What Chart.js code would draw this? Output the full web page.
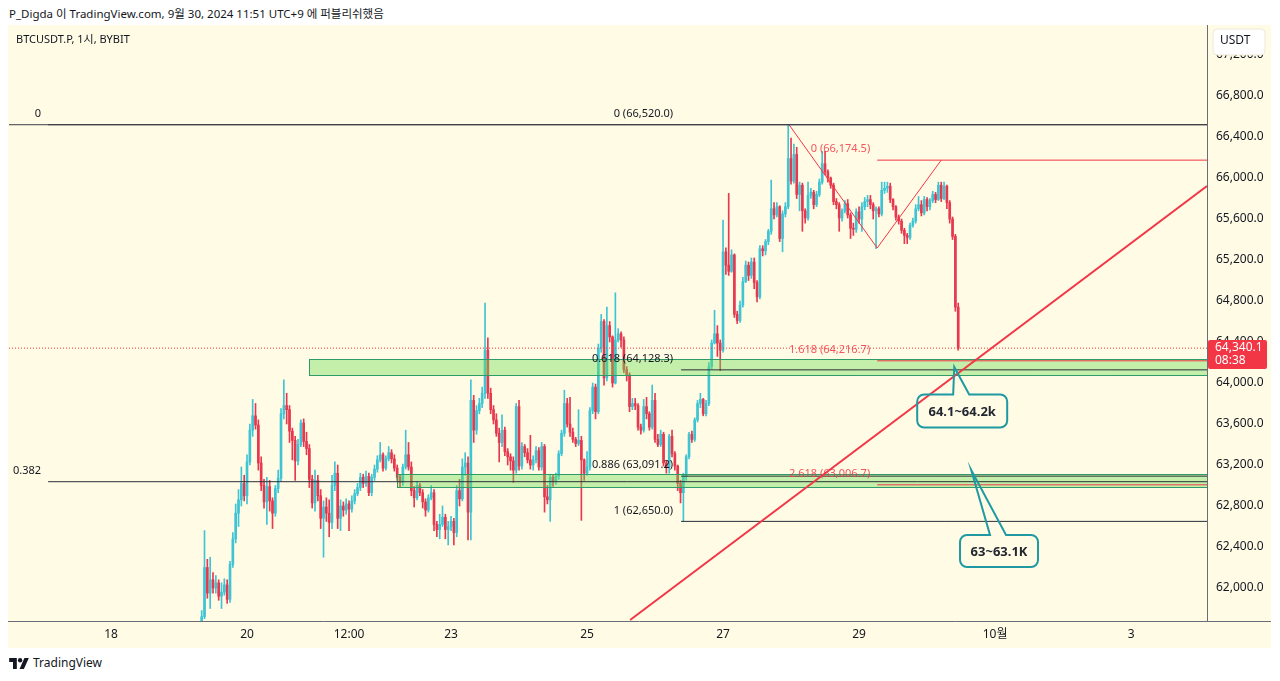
<!DOCTYPE html>
<html>
<head>
<meta charset="utf-8">
<script src="https://cdn.jsdelivr.net/npm/chart.js@4.4.1/dist/chart.umd.min.js"></script>
<style>
  html, body { margin: 0; padding: 0; background: #ffffff; }
  body {
    width: 1280px; height: 681px; position: relative; overflow: hidden;
    font-family: "Noto Sans", "Noto Sans CJK KR", sans-serif; color: #131722;
  }
  #header { position: absolute; left: 9px; top: 5px; font-size: 11.5px; line-height: 18px; }
  #wrap { position: absolute; left: 8px; top: 25px; width: 1263px; height: 623px; background: #fffbe5; }
  #footer { position: absolute; left: 9px; top: 655px; font-size: 12px; line-height: 16px; display: flex; align-items: center; gap: 4px; }
</style>
</head>
<body>
<div id="header">P_Digda 이 TradingView.com, 9월 30, 2024 11:51 UTC+9 에 퍼블리쉬했음</div>
<div id="wrap"><canvas id="chart" width="1263" height="623"></canvas></div>
<div id="footer">
  <svg width="20" height="12" viewBox="0 0 36 22"><path d="M14 22H7V9H0V2h14z" fill="#131722"/><circle cx="20" cy="6" r="4" fill="#131722"/><path d="M28 2h8l-9 20h-8z" fill="#131722"/></svg>
  <span>TradingView</span>
</div>
<script>
// hours counted from Sep 20 00:00; first candle is Sep 19 08:00
const firstHour = -16;

const opens = [
  61600, 61720, 62200, 61950, 62080, 62000, 62050, 61920, 61960, 62030,
  61890, 62230, 62480, 62730, 62860, 63020, 62900, 63230, 63540, 63680,
  63590, 63220, 63000, 62840, 62990, 62850, 62730, 62970, 63070, 63700,
  63780, 63740, 63530, 63440, 63240, 63400, 63610, 63430, 63360, 63060,
  62830, 63050, 62900, 62680, 62790, 62730, 62640, 63000, 63120, 62680,
  62800, 62760, 62820, 62770, 62850, 62920, 62980, 63080, 63020, 63090,
  62930, 63080, 63160, 63250, 63300, 63170, 63260, 63320, 63260, 63170,
  63080, 63030, 63180, 63300, 63180, 62950, 62880, 63000, 62930, 62840,
  62760, 62880, 62930, 62620, 62570, 62620, 62690, 62570, 62600, 62650,
  62540, 62950, 62870, 63180, 63220, 62740, 63830, 63540, 63730, 63800,
  63900, 64320, 63900, 63740, 63640, 63510, 63420, 63540, 63330, 63280,
  63240, 63150, 63770, 63190, 63380, 63320, 63250, 63200, 63250, 63340,
  63180, 63380, 62890, 62860, 63080, 63040, 63090, 63310, 63510, 63800,
  63600, 63520, 63450, 63410, 63440, 63250, 63120, 63180, 63730, 63960,
  63720, 64340, 64600, 64050, 64560, 64450, 64000, 64420, 64480, 64420,
  64130, 64080, 63770, 63800, 63780, 63570, 63540, 63770, 63700, 63570,
  63830, 63450, 63400, 63500, 63220, 63180, 63480, 63310, 63190, 63020,
  62930, 63090, 63280, 63500, 63450, 63640, 63800, 63840, 63700, 63800,
  64160, 64390, 64480, 64390, 64320, 65280, 65150, 65090, 65250, 64670,
  64610, 64760, 64990, 65150, 65050, 65180, 64980, 64840, 65310, 65290,
  65380, 65480, 65700, 65640, 65720, 65410, 65650, 65720, 66190, 65970,
  66230, 65840, 65930, 65680, 65610, 65830, 65860, 65740, 65840, 65960,
  66140, 66060, 66000, 65930, 65770, 65740, 65610, 65680, 65750, 65640,
  65510, 65500, 65670, 65600, 65720, 65770, 65790, 65740, 65680, 65700,
  65650, 65880, 65900, 65920, 65790, 65720, 65620, 65580, 65490, 65440,
  65420, 65540, 65580, 65700, 65740, 65660, 65790, 65720, 65780, 65840,
  65790, 65930, 65800, 65920, 65760, 65600, 65430, 64740
];

const highs = [
  61780, 62560, 62280, 62300, 62150, 62120, 62080, 62050, 62090, 62080,
  62260, 62540, 62820, 62960, 63180, 63100, 63300, 63600, 63840, 63800,
  63640, 63280, 63060, 63080, 63050, 62880, 63000, 63150, 63750, 64030,
  63900, 63780, 63560, 63480, 63450, 63640, 63650, 63520, 63400, 63100,
  63150, 63100, 62960, 62850, 62880, 62860, 63100, 63230, 63200, 62860,
  62840, 62870, 62850, 62900, 62960, 63020, 63120, 63110, 63140, 63120,
  63110, 63200, 63290, 63420, 63320, 63290, 63380, 63350, 63300, 63200,
  63110, 63210, 63540, 63420, 63230, 62990, 63040, 63020, 62960, 62870,
  62910, 63000, 62960, 62650, 62720, 62800, 62720, 62650, 62700, 62680,
  63000, 63060, 63260, 63320, 63280, 64030, 63880, 63780, 63850, 63960,
  64780, 64440, 63950, 63780, 63700, 63560, 63690, 63570, 63360, 63310,
  63280, 63800, 63830, 63420, 63400, 63360, 63490, 63290, 63380, 63370,
  63420, 63400, 63000, 63110, 63100, 63120, 63340, 63540, 63930, 63850,
  63860, 63560, 63470, 63740, 63480, 63260, 63330, 63760, 64000, 63990,
  64380, 64670, 64620, 64740, 64600, 64460, 64880, 64530, 64500, 64450,
  64160, 64100, 63850, 63850, 63800, 63600, 63840, 63860, 63720, 63980,
  63900, 63500, 63540, 63520, 63240, 63500, 63540, 63330, 63200, 63050,
  63120, 63300, 63520, 63530, 63660, 63830, 63900, 63850, 63830, 64200,
  64420, 64710, 64560, 64420, 65590, 65320, 65850, 65300, 65260, 64700,
  64800, 65030, 65190, 65180, 65220, 65220, 65000, 65340, 65340, 65400,
  65500, 65980, 65760, 65760, 65730, 65680, 65760, 66520, 66390, 66330,
  66300, 65960, 65950, 65700, 65960, 65900, 65880, 65870, 65990, 66260,
  66260, 66080, 66010, 65950, 65800, 65760, 65700, 65780, 65790, 65660,
  65560, 65700, 65720, 65760, 65810, 65830, 65830, 65760, 65720, 65720,
  65960, 65960, 65960, 65950, 65800, 65730, 65640, 65600, 65510, 65460,
  65560, 65610, 65740, 65820, 65780, 65820, 65810, 65800, 65870, 65860,
  65960, 65960, 65960, 65930, 65780, 65620, 65450, 64780
];

const lows = [
  61560, 61700, 61900, 61800, 61950, 61950, 61880, 61800, 61930, 61850,
  61860, 62200, 62440, 62600, 62800, 62850, 62820, 63200, 63480, 63550,
  63150, 62950, 62780, 62620, 62750, 62580, 62700, 62930, 63040, 63650,
  63600, 63420, 63250, 63050, 63200, 63380, 63380, 63300, 62980, 62780,
  62750, 62850, 62580, 62300, 62650, 62500, 62580, 62950, 62580, 62560,
  62700, 62720, 62560, 62740, 62820, 62900, 62950, 62980, 62990, 62900,
  62900, 63050, 63130, 63230, 63140, 63150, 63240, 63220, 63140, 63050,
  62980, 63000, 63160, 63150, 62900, 62790, 62860, 62900, 62780, 62700,
  62740, 62860, 62560, 62500, 62480, 62600, 62480, 62420, 62560, 62420,
  62500, 62800, 62850, 63100, 62470, 62470, 63420, 63500, 63700, 63760,
  63850, 63850, 63700, 63600, 63480, 63230, 63380, 63290, 63200, 63150,
  63030, 63120, 63150, 63160, 63280, 63220, 63160, 63150, 63220, 63150,
  63150, 62740, 62820, 62650, 62990, 63010, 63060, 63290, 63480, 63570,
  63480, 63420, 63380, 63390, 62660, 63050, 63100, 63150, 63700, 63650,
  63700, 64300, 63980, 64020, 64400, 63960, 63990, 64400, 64350, 64100,
  64020, 63720, 63740, 63740, 63540, 63500, 63520, 63650, 63540, 63550,
  63420, 63380, 63380, 63190, 63120, 63120, 63280, 63150, 62950, 62830,
  62650, 63050, 63260, 63420, 63430, 63620, 63760, 63680, 63680, 63780,
  64140, 64380, 64260, 64120, 64300, 65060, 65050, 65080, 64640, 64580,
  64590, 64740, 64980, 65000, 65020, 64920, 64790, 64820, 65240, 65250,
  65350, 65450, 65600, 65620, 65380, 65280, 65620, 65700, 65940, 65950,
  65800, 65680, 65480, 65560, 65590, 65800, 65700, 65720, 65820, 65940,
  66030, 65960, 65900, 65740, 65700, 65480, 65580, 65660, 65610, 65410,
  65440, 65470, 65560, 65480, 65690, 65720, 65700, 65600, 65310, 65620,
  65630, 65850, 65860, 65760, 65690, 65590, 65550, 65460, 65360, 65360,
  65400, 65520, 65560, 65680, 65630, 65640, 65680, 65690, 65760, 65760,
  65780, 65770, 65790, 65700, 65560, 65400, 64700, 64320
];

const closes = [
  61720, 62200, 61950, 62080, 62000, 62050, 61920, 61960, 62030, 61890,
  62230, 62480, 62730, 62860, 63020, 62900, 63230, 63540, 63680, 63590,
  63220, 63000, 62840, 62990, 62850, 62730, 62970, 63070, 63700, 63780,
  63740, 63530, 63440, 63240, 63400, 63610, 63430, 63360, 63060, 62830,
  63050, 62900, 62680, 62790, 62730, 62640, 63000, 63120, 62680, 62800,
  62760, 62820, 62770, 62850, 62920, 62980, 63080, 63020, 63090, 62930,
  63080, 63160, 63250, 63300, 63170, 63260, 63320, 63260, 63170, 63080,
  63030, 63180, 63300, 63180, 62950, 62880, 63000, 62930, 62840, 62760,
  62880, 62930, 62620, 62570, 62620, 62690, 62570, 62600, 62650, 62540,
  62950, 62870, 63180, 63220, 62740, 63830, 63540, 63730, 63800, 63900,
  64320, 63900, 63740, 63640, 63510, 63420, 63540, 63330, 63280, 63240,
  63150, 63770, 63190, 63380, 63320, 63250, 63200, 63250, 63340, 63180,
  63380, 62890, 62860, 63080, 63040, 63090, 63310, 63510, 63800, 63600,
  63520, 63450, 63410, 63440, 63250, 63120, 63180, 63730, 63960, 63720,
  64340, 64600, 64050, 64560, 64450, 64000, 64420, 64480, 64420, 64130,
  64080, 63770, 63800, 63780, 63570, 63540, 63770, 63700, 63570, 63830,
  63450, 63400, 63500, 63220, 63180, 63480, 63310, 63190, 63020, 62930,
  63090, 63280, 63500, 63450, 63640, 63800, 63840, 63700, 63800, 64160,
  64390, 64480, 64390, 64320, 65280, 65150, 65090, 65250, 64670, 64610,
  64760, 64990, 65150, 65050, 65180, 64980, 64840, 65310, 65290, 65380,
  65480, 65700, 65640, 65720, 65410, 65650, 65720, 66190, 65970, 66230,
  65840, 65930, 65680, 65610, 65830, 65860, 65740, 65840, 65960, 66140,
  66060, 66000, 65930, 65770, 65740, 65610, 65680, 65750, 65640, 65510,
  65500, 65670, 65600, 65720, 65770, 65790, 65740, 65680, 65700, 65650,
  65880, 65900, 65920, 65790, 65720, 65620, 65580, 65490, 65440, 65420,
  65540, 65580, 65700, 65740, 65660, 65790, 65720, 65780, 65840, 65790,
  65930, 65800, 65920, 65760, 65600, 65430, 64740, 64340
];

// axes
const xMin = -84;
const xMax = 338.8;
const xTickHours = [-48, 0, 36, 72, 120, 168, 216, 264, 312];
const xTickLabels = ["18", "20", "12:00", "23", "25", "27", "29", "10월", "3"];
const yMin = 61678;
const yMax = 67493;
const yTicks = [62000, 62400, 62800, 63200, 63600, 64000, 64400, 64800, 65200, 65600, 66000, 66400, 66800, 67200];

// drawings
const leftFibStart = -70.2;
const leftFibLevels = [66520, 63037];
const leftFibNames = ["0", "0.382"];
const midFibStart = 153.2;
const midFibLevels = [66520, 64128.3, 63091.2, 62650];
const midFibNames = ["0 (66,520.0)", "0.618 (64,128.3)", "0.886 (63,091.2)", "1 (62,650.0)"];
const redFibStart = 222.4;
const redFibLevels = [66174.5, 64216.7, 63006.7];
const redFibNames = ["0 (66,174.5)", "1.618 (64,216.7)", "2.618 (63,006.7)"];
const triangleHours = [191.3, 222.4, 245.0];
const trianglePrices = [66520, 65317, 66174.5];
const trendHours = [135.2, 338.8];
const trendPrices = [61688, 65922];
const lastPrice = 64340.1;
const zoneStartHours = [21.9, 52.9];
const zoneTops = [64230, 63109];
const zoneBottoms = [64083, 62983];
const noteTexts = ["64.1~64.2k", "63~63.1K"];
const noteTipHours = [249.6, 255.6];
const noteTipPrices = [64156, 63151];
const noteHours = [252.4, 265.4];
const notePrices = [63727, 62361];

const FONT = "'Noto Sans', 'Noto Sans CJK KR', sans-serif";
const UP = "#3fc4d4";
const DOWN = "#e6394f";
const RED = "#f23645";
const INK = "#131722";

const hours = opens.map(function(o, i) { return firstHour + i; });
const candleColors = closes.map(function(c, i) {
    return c >= opens[i] ? UP : DOWN;
});

function levelLine(start, level, color) {
    return {
        type: "line",
        data: [{ x: start, y: level }, { x: xMax, y: level }],
        borderColor: color,
        borderWidth: 1,
        pointRadius: 0,
        order: 2
    };
}

const datasets = [
    {
        data: hours.map(function(h, i) { return { x: h, y: [lows[i], highs[i]] }; }),
        backgroundColor: candleColors,
        barThickness: 1,
        grouped: false,
        order: 20
    },
    {
        data: hours.map(function(h, i) { return { x: h, y: [opens[i], closes[i]] }; }),
        backgroundColor: candleColors,
        barThickness: 2,
        minBarLength: 1,
        grouped: false,
        order: 19
    }
];

datasets.push(levelLine(xMin, midFibLevels[0], "#3a3d47"));
leftFibLevels.forEach(function(lv) { datasets.push(levelLine(leftFibStart, lv, "#2a2e39")); });
midFibLevels.slice(1).forEach(function(lv) { datasets.push(levelLine(midFibStart, lv, "#2a2e39")); });
redFibLevels.forEach(function(lv) { datasets.push(levelLine(redFibStart, lv, RED)); });

datasets.push({
    type: "line",
    data: [{ x: xMin, y: lastPrice }, { x: xMax, y: lastPrice }],
    borderColor: RED,
    borderWidth: 1,
    borderDash: [1, 2],
    pointRadius: 0,
    order: 2
});

datasets.push({
    type: "line",
    data: triangleHours.map(function(h, i) { return { x: h, y: trianglePrices[i] }; }),
    borderColor: RED,
    borderWidth: 1,
    pointRadius: 0,
    order: 2
});

datasets.push({
    type: "line",
    data: trendHours.map(function(h, i) { return { x: h, y: trendPrices[i] }; }),
    borderColor: RED,
    borderWidth: 2,
    pointRadius: 0,
    order: 1
});

function roundRect(ctx, l, t, w, h, r) {
    ctx.beginPath();
    ctx.moveTo(l + r, t);
    ctx.lineTo(l + w - r, t);
    ctx.arcTo(l + w, t, l + w, t + r, r);
    ctx.lineTo(l + w, t + h - r);
    ctx.arcTo(l + w, t + h, l + w - r, t + h, r);
    ctx.lineTo(l + r, t + h);
    ctx.arcTo(l, t + h, l, t + h - r, r);
    ctx.lineTo(l, t + r);
    ctx.arcTo(l, t, l + r, t, r);
    ctx.closePath();
}

function drawNote(ctx, cx, cy, w, h, tipX, tipY, text) {
    const l = cx - w / 2, r = cx + w / 2, t = cy - h / 2, b = cy + h / 2, rad = 7;
    ctx.beginPath();
    ctx.moveTo(l + rad, t);
    ctx.lineTo(cx - 9, t);
    ctx.lineTo(tipX, tipY);
    ctx.lineTo(cx + 7, t);
    ctx.lineTo(r - rad, t);
    ctx.arcTo(r, t, r, t + rad, rad);
    ctx.lineTo(r, b - rad);
    ctx.arcTo(r, b, r - rad, b, rad);
    ctx.lineTo(l + rad, b);
    ctx.arcTo(l, b, l, b - rad, rad);
    ctx.lineTo(l, t + rad);
    ctx.arcTo(l, t, l + rad, t, rad);
    ctx.closePath();
    ctx.strokeStyle = "#1f9aa3";
    ctx.lineWidth = 2;
    ctx.stroke();
    ctx.fillStyle = "#222631";
    ctx.font = "bold 13px " + FONT;
    ctx.textAlign = "center";
    ctx.textBaseline = "middle";
    ctx.fillText(text, cx, cy + 1);
}

const overlay = {
    id: "overlay",

    afterDatasetDraw: function(chart, args) {
        if (args.index !== 1) {
            return;
        }
        const ctx = chart.ctx;
        const a = chart.chartArea;
        const xs = chart.scales.x;
        const ys = chart.scales.y;
        ctx.save();
        ctx.beginPath();
        ctx.rect(a.left, a.top, a.right - a.left, a.bottom - a.top);
        ctx.clip();
        zoneStartHours.forEach(function(h, i) {
            const x1 = Math.round(xs.getPixelForValue(h)) + 0.5;
            const y1 = Math.round(ys.getPixelForValue(zoneTops[i])) + 0.5;
            const y2 = Math.round(ys.getPixelForValue(zoneBottoms[i])) + 0.5;
            ctx.fillStyle = "rgba(104, 222, 84, 0.4)";
            ctx.fillRect(x1, y1, a.right - x1, y2 - y1);
            ctx.strokeStyle = "#2e9b68";
            ctx.lineWidth = 1;
            ctx.strokeRect(x1, y1, a.right - x1 + 3, y2 - y1);
        });
        ctx.restore();
    },

    afterDatasetsDraw: function(chart) {
        const ctx = chart.ctx;
        const a = chart.chartArea;
        const xs = chart.scales.x;
        const ys = chart.scales.y;
        ctx.save();

        ctx.font = "11px " + FONT;
        ctx.textBaseline = "middle";
        ctx.textAlign = "right";
        ctx.fillStyle = INK;
        leftFibLevels.forEach(function(lv, i) {
            ctx.fillText(leftFibNames[i], xs.getPixelForValue(leftFibStart) - 7, ys.getPixelForValue(lv) - 11);
        });
        midFibLevels.forEach(function(lv, i) {
            ctx.fillText(midFibNames[i], xs.getPixelForValue(midFibStart) - 8, ys.getPixelForValue(lv) - 11);
        });
        ctx.fillStyle = "rgba(242, 54, 69, 0.85)";
        redFibLevels.forEach(function(lv, i) {
            ctx.fillText(redFibNames[i], xs.getPixelForValue(redFibStart) - 7, ys.getPixelForValue(lv) - 11);
        });

        ctx.textAlign = "left";
        ctx.fillStyle = INK;
        ctx.fillText("BTCUSDT.P, 1시, BYBIT", a.left + 7, a.top + 15);

        const sizes = [[90, 33], [78, 32]];
        noteTexts.forEach(function(t, i) {
            drawNote(
                ctx,
                xs.getPixelForValue(noteHours[i]),
                ys.getPixelForValue(notePrices[i]),
                sizes[i][0], sizes[i][1],
                xs.getPixelForValue(noteTipHours[i]),
                ys.getPixelForValue(noteTipPrices[i]),
                t
            );
        });
        ctx.restore();
    },

    afterDraw: function(chart) {
        const ctx = chart.ctx;
        const a = chart.chartArea;
        const ys = chart.scales.y;
        ctx.save();

        ctx.strokeStyle = "#6a6d78";
        ctx.lineWidth = 1;
        ctx.beginPath();
        ctx.moveTo(a.right + 0.5, 0);
        ctx.lineTo(a.right + 0.5, a.bottom);
        ctx.moveTo(0, a.bottom + 0.5);
        ctx.lineTo(chart.width, a.bottom + 0.5);
        ctx.stroke();

        const py = Math.round(ys.getPixelForValue(lastPrice));
        ctx.fillStyle = RED;
        roundRect(ctx, a.right + 1, py - 8, 59, 29, 2);
        ctx.fill();
        ctx.fillStyle = "#ffffff";
        ctx.font = "12px " + FONT;
        ctx.textAlign = "left";
        ctx.textBaseline = "middle";
        ctx.fillText(lastPrice.toLocaleString("en-US", { minimumFractionDigits: 1 }), a.right + 8, py);
        ctx.fillText("08:38", a.right + 8, py + 13);

        ctx.fillStyle = "#ffffff";
        roundRect(ctx, a.right + 6, 4, 52, 26, 4);
        ctx.fill();
        ctx.strokeStyle = "#ece9da";
        ctx.stroke();
        ctx.fillStyle = INK;
        ctx.fillText("USDT", a.right + 13, 16);
        ctx.restore();
    }
};

Chart.defaults.font.family = FONT;
Chart.defaults.font.size = 12;
Chart.defaults.color = INK;

new Chart(
    document.getElementById("chart"),
    {
        type: "bar",
        data: { datasets: datasets },
        options: {
            responsive: false,
            animation: false,
            events: [],
            layout: { padding: { left: 1, right: 0, top: 0, bottom: 0 } },
            plugins: {
                legend: { display: false },
                tooltip: { enabled: false }
            },
            scales: {
                x: {
                    type: "linear",
                    min: xMin,
                    max: xMax,
                    offset: false,
                    grid: { display: false, drawTicks: false, offset: false },
                    border: { display: false },
                    afterBuildTicks: function(s) {
                        s.ticks = xTickHours.map(function(v) { return { value: v }; });
                    },
                    afterFit: function(s) {
                        s.height = 27;
                        s.paddingLeft = 0;
                        s.paddingRight = 0;
                    },
                    ticks: {
                        autoSkip: false,
                        maxRotation: 0,
                        minRotation: 0,
                        padding: 6,
                        color: INK,
                        callback: function(v) {
                            const i = xTickHours.indexOf(v);
                            return i >= 0 ? xTickLabels[i] : "";
                        }
                    }
                },
                y: {
                    type: "linear",
                    position: "right",
                    min: yMin,
                    max: yMax,
                    grid: { display: false, drawTicks: false },
                    border: { display: false },
                    afterBuildTicks: function(s) {
                        s.ticks = yTicks.map(function(v) { return { value: v }; });
                    },
                    afterFit: function(s) {
                        s.width = 64;
                        s.paddingTop = 0;
                        s.paddingBottom = 0;
                    },
                    ticks: {
                        padding: 9,
                        color: INK,
                        callback: function(v) {
                            return v.toLocaleString("en-US", { minimumFractionDigits: 1, maximumFractionDigits: 1 });
                        }
                    }
                }
            }
        },
        plugins: [overlay]
    }
);
</script>
</body>
</html>
